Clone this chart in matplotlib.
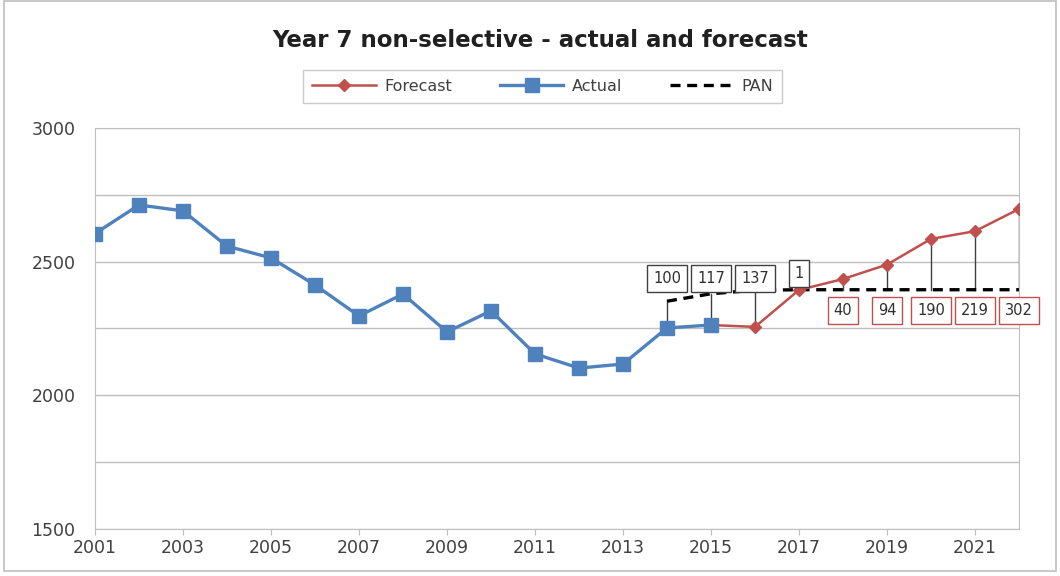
import numpy as np
import matplotlib.pyplot as plt
from matplotlib.patches import Rectangle

# year 7 non-selective numbers
actual_years = list(range(2001, 2016))
actual = [2605, 2712, 2690, 2558, 2514, 2413, 2297, 2379, 2237, 2316,
          2155, 2102, 2117, 2252, 2263]

forecast_years = list(range(2015, 2023))
forecast = [2263, 2256, 2394, 2435, 2489, 2585, 2614, 2697]

pan_years = list(range(2014, 2023))
pan = [2352, 2380, 2393, 2395, 2395, 2395, 2395, 2395, 2395]

xtick_years = list(range(2001, 2022, 2))
ytick_vals = [1500, 2000, 2500, 3000]

BLUE = '#4F81BD'
RED = '#C0504D'

fig = plt.figure(figsize=(10.6, 5.76), dpi=100)
ax = fig.add_axes([0.0896, 0.0816, 0.8717, 0.6962])

# chart frame
fig.patches.append(Rectangle((0.004, 0.008), 0.992, 0.99, transform=fig.transFigure,
                             fill=False, edgecolor='#BFBFBF', linewidth=1.2))

fc = ax.plot(forecast_years, forecast, color=RED, lw=1.8, marker='D', ms=6,
             label='Forecast', zorder=4)
ac = ax.plot(actual_years, actual, color=BLUE, lw=2.4, marker='s', ms=10,
             label='Actual', zorder=5)
pn = ax.plot(pan_years, pan, color='black', lw=2.4, ls=(0, (3, 2)),
             label='PAN', zorder=3)

# series value for each PAN year: actual up to 2015, forecast after
series = dict(zip(actual_years, actual))
series.update({y: v for y, v in zip(forecast_years, forecast) if y > 2015})

for yr, p in zip(pan_years, pan):
    v = series[yr]
    ax.plot([yr, yr], [v, p], color='#404040', lw=1.0, zorder=2)
    diff = abs(p - v)
    if p >= v:
        ypos = 2455 if yr == 2017 else 2437
        ax.text(yr, ypos, str(diff), ha='center', va='center', fontsize=10.5,
                color='#303030', zorder=6,
                bbox=dict(boxstyle='square,pad=0.4', fc='white', ec='#404040', lw=1))
    else:
        ax.text(yr, 2318, str(diff), ha='center', va='center', fontsize=10.5,
                color='#303030', zorder=6,
                bbox=dict(boxstyle='square,pad=0.4', fc='white', ec=RED, lw=1))

ax.set_xlim(2001, 2022)
ax.set_ylim(1500, 3000)
ax.set_xticks(xtick_years)
ax.set_xticklabels([str(y) for y in xtick_years])
ax.set_yticks(ytick_vals)
ax.set_yticks(np.arange(1750, 3000, 500), minor=True)
ax.grid(True, which='both', axis='y', color='#BFBFBF', lw=1)
ax.set_axisbelow(True)
ax.tick_params(axis='both', labelsize=12.5, colors='#404040', length=4)
ax.tick_params(axis='y', which='both', length=0, pad=14)
ax.tick_params(axis='x', direction='out', color='#BFBFBF')
for s in ['top', 'left', 'right', 'bottom']:
    ax.spines[s].set_color('#BFBFBF')

fig.text(0.51, 0.93, 'Year 7 non-selective - actual and forecast', ha='center',
         va='center', fontsize=16.5, fontweight='bold', color='#202020')

leg = fig.legend(handles=[fc[0], ac[0], pn[0]], loc='center', ncol=3,
                 bbox_to_anchor=(0.512, 0.85), fontsize=11.5, frameon=True,
                 fancybox=False, edgecolor='#BFBFBF', handlelength=4.0,
                 columnspacing=3.0, borderpad=0.55, handletextpad=0.5)
for t in leg.get_texts():
    t.set_color('#404040')

fig.savefig('out.png', dpi=100)
